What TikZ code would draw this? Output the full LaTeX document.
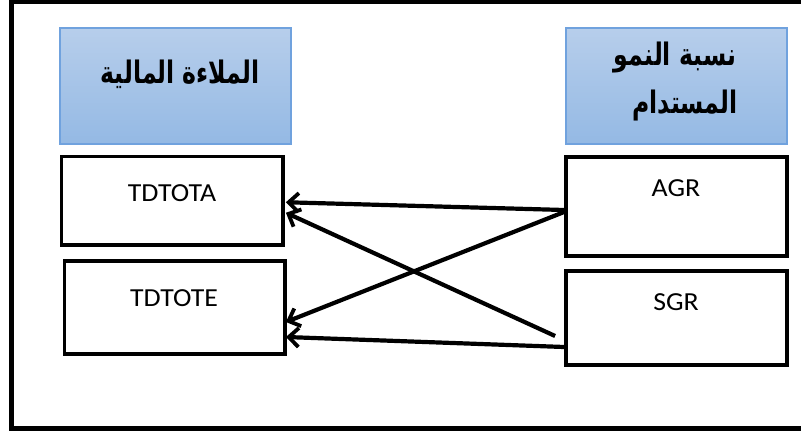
\documentclass[tikz,border=0pt]{standalone}
\usepackage{fontspec}
\usepackage{graphicx}
\setmainfont{Carlito}
\newfontfamily\arabicfont[Script=Arabic]{DejaVu Sans}
\TeXXeTstate=1
\usetikzlibrary{arrows.meta,calc}
\definecolor{hdtop}{RGB}{183,206,235}
\definecolor{hdbot}{RGB}{148,185,228}
\definecolor{hdline}{RGB}{112,162,222}
\newcommand{\artxt}[1]{\scalebox{0.76}[1]{\arabicfont\bfseries\fontsize{31}{36}\selectfont\beginR #1\endR}}
\newcommand{\lattxt}[1]{\scalebox{1.07}[1]{#1}}
\tikzset{
  hdbox/.style={rectangle, draw=hdline, line width=1.2pt, top color=hdtop, bottom color=hdbot, inner sep=0pt},
  varbox/.style={rectangle, draw=black, line width=3.8pt, fill=white, inner sep=0pt},
  vartext/.style={anchor=base, font=\fontsize{26}{30}\selectfont, inner sep=0pt},
  artext/.style={anchor=base, inner sep=0pt},
  link/.style={line width=4.2pt, -{Straight Barb[length=10pt,width=19pt,line width=3.8pt]}}
}
\begin{document}
\begin{tikzpicture}[x=1pt,y=-1pt]
\useasboundingbox (0,0) rectangle (801,431);
\clip (0,0) rectangle (801,431);
\fill[white] (0,0) rectangle (801,431);
\draw[line width=4.8pt] (830,2) -- (11.3,2) -- (11.3,428.5) -- (830,428.5);
% header boxes
\node[hdbox, minimum width=231pt, minimum height=116pt] (lhead) at (175.5,86) {};
\node[hdbox, minimum width=221pt, minimum height=116pt] (rhead) at (676.5,86) {};
\node[artext] (lheadtxt) at (180,83) {\artxt{الملاءة المالية}};
\node[artext] (rheadtxta) at (675,65) {\artxt{نسبة النمو}};
\node[artext] (rheadtxtb) at (685,113) {\artxt{المستدام}};
% variable boxes
\node[varbox, minimum width=221.5pt, minimum height=88.5pt] (tota) at (172.25,200.75) {};
\node[varbox, minimum width=220.5pt, minimum height=93pt] (tote) at (174.75,307.5) {};
\node[varbox, minimum width=221pt, minimum height=99pt] (agr) at (676.5,206.5) {};
\node[varbox, minimum width=221pt, minimum height=94pt] (sgr) at (676.5,318) {};
\node[vartext] (totatxt) at (172,201.5) {\lattxt{TDTOTA}};
\node[vartext] (totetxt) at (174,306.5) {\lattxt{TDTOTE}};
\node[vartext] (agrtxt) at (676,196.5) {\lattxt{AGR}};
\node[vartext] (sgrtxt) at (676,310) {\lattxt{SGR}};
% connectors
\coordinate (sgrfree) at ($(sgr.west)+(-9,18)$);
\draw[link] ($(agr.west)+(0,3.5)$) -- ($(tota.east)+(1,1.5)$);
\draw[link] ($(agr.west)+(0,5.5)$) -- ($(tote.east)+(-1,14.5)$);
\draw[link] (sgrfree) -- ($(tota.east)+(1,12)$);
\draw[link] ($(sgr.west)+(0,29)$) -- ($(tote.east)+(-1,29.5)$);
\end{tikzpicture}
\end{document}
